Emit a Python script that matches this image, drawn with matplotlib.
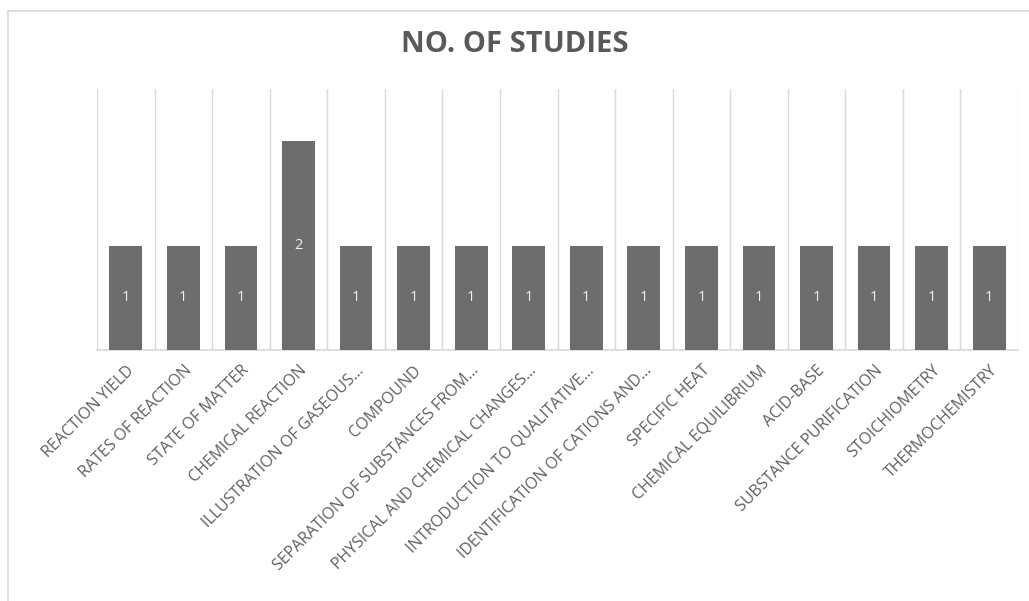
import matplotlib.pyplot as plt
from matplotlib.patches import Rectangle

plt.rcParams['font.family'] = ['Open Sans', 'DejaVu Sans']

topics = ["REACTION YIELD", "RATES OF REACTION", "STATE OF MATTER",
          "CHEMICAL REACTION", "ILLUSTRATION OF GASEOUS…", "COMPOUND",
          "SEPARATION OF SUBSTANCES FROM…", "PHYSICAL AND CHEMICAL CHANGES…",
          "INTRODUCTION TO QUALITATIVE…", "IDENTIFICATION OF CATIONS AND…",
          "SPECIFIC HEAT", "CHEMICAL EQUILIBRIUM", "ACID-BASE",
          "SUBSTANCE PURIFICATION", "STOICHIOMETRY", "THERMOCHEMISTRY"]
studies = [1, 1, 1, 2, 1, 1, 1, 1, 1, 1, 1, 1, 1, 1, 1, 1]

W, H = 1029, 601
fig = plt.figure(figsize=(W / 100, H / 100), dpi=100)
fig.patch.set_facecolor('white')

# chart frame (runs off the right and bottom edges)
fig.patches.append(Rectangle((8 / W, -0.1), 1.2, 1 - 11 / H + 0.1,
                             transform=fig.transFigure, fill=False,
                             edgecolor='#d9d9d9', linewidth=1.2))

ax = fig.add_axes([97 / W, 1 - 350 / H, 921 / W, 261 / H])
x = range(len(topics))
bars = ax.bar(x, studies, width=0.57, color='#6d6d6d', zorder=3)

ax.set_xlim(-0.5, len(topics) - 0.5)
ax.set_ylim(0, 2.5)
ax.set_yticks([])

# category separators
for b in range(len(topics) + 1):
    ax.axvline(b - 0.5, color='#d9d9d9', linewidth=1, zorder=1)

for s in ['top', 'left', 'right']:
    ax.spines[s].set_visible(False)
ax.spines['bottom'].set_color('#d9d9d9')
ax.spines['bottom'].set_linewidth(1.2)

ax.set_xticks(list(x))
ax.set_xticklabels(topics, rotation=45, ha='right', va='top',
                   rotation_mode='anchor', fontsize=11.5, color='#5f5f5f')
ax.tick_params(axis='x', length=0, pad=9)

for rect, v in zip(bars, studies):
    ax.text(rect.get_x() + rect.get_width() / 2, v / 2, str(v),
            ha='center', va='center', color='#f2f2f2', fontsize=10.5, zorder=4)

fig.text(0.5, 1 - 45 / H, "NO. OF STUDIES", ha='center', va='center',
         fontsize=21, fontweight='bold', color='#595959')

fig.savefig('out.png', dpi=100)
